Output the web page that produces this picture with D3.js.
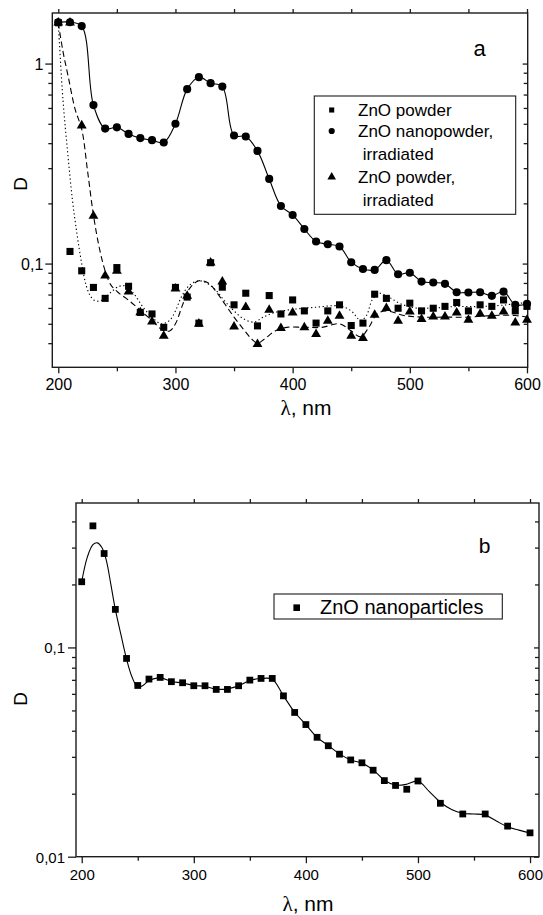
<!DOCTYPE html>
<html><head><meta charset="utf-8">
<script src="https://cdn.jsdelivr.net/npm/d3@7"></script>
<style>
body{margin:0;background:#fff}
svg{display:block}
text{font-family:"Liberation Sans",Arial,sans-serif;fill:#000}
</style></head><body>
<svg id="c" width="543" height="915"></svg>
<script>
// ---------- DATA ----------
// Panel a
const lambdaA = d3.range(200, 601, 10);
const nanoIrr = [1.61,1.61,1.54,0.62,0.473,0.48,0.445,0.424,0.414,0.403,0.50,0.745,0.855,0.798,0.767,0.437,0.432,0.366,0.265,0.194,0.175,0.149,0.129,0.125,0.1217,0.1016,0.094,0.093,0.104,0.0885,0.09,0.0813,0.0804,0.0792,0.0719,0.0717,0.0719,0.069,0.0724,0.0622,0.063];
const powder = [1.6,0.115,0.092,0.076,0.067,0.0955,0.077,0.057,0.056,0.048,0.076,0.068,0.0504,0.101,0.0762,0.0622,0.0711,0.0488,0.0692,0.056,0.0658,0.058,0.0504,0.058,0.0622,0.049,0.0504,0.0703,0.067,0.0598,0.0634,0.058,0.0598,0.0611,0.0639,0.058,0.0622,0.0611,0.0658,0.058,0.0611];
const powderIrr = [1.6,1.6,0.49,0.173,0.087,0.092,0.0724,0.057,0.0513,0.0435,0.075,0.069,0.05,0.101,0.0813,0.0484,0.0605,0.0395,0.0587,0.0475,0.0569,0.0479,0.0444,0.0517,0.0548,0.0435,0.0424,0.0554,0.0598,0.0517,0.0575,0.0527,0.0543,0.0543,0.0569,0.0523,0.056,0.0548,0.0575,0.0507,0.0523];
// fitted curves
const fitPowderX = [200,204,208,212,216,220,224,228,232,238,245,252,258,265,272,280,288,295,300,305,312,320,328,335,342,350,358,367,375,385,400,420,440,450,458,463,468,474,482,492,505,520,540,560,580,600];
const fitPowderY = [1.6,0.66,0.36,0.21,0.14,0.1,0.077,0.068,0.065,0.066,0.072,0.077,0.077,0.07,0.061,0.054,0.05,0.052,0.058,0.068,0.078,0.082,0.079,0.073,0.065,0.058,0.053,0.051,0.054,0.057,0.059,0.0605,0.0614,0.058,0.052,0.055,0.066,0.071,0.068,0.063,0.06,0.06,0.061,0.061,0.062,0.064];
const fitIrrX = [200,204,208.5,214.4,220,225,230,235,240,245,252,258,265,272,280,288,295,300,306,312,320,328,335,342,350,358,365,370,376,385,395,410,425,440,450,458,465,472,480,495,510,530,550,570,590,600];
const fitIrrY = [1.6,1.15,0.86,0.59,0.47,0.29,0.175,0.12,0.092,0.078,0.071,0.067,0.062,0.057,0.052,0.047,0.046,0.05,0.062,0.075,0.082,0.08,0.072,0.063,0.054,0.047,0.042,0.04,0.042,0.046,0.048,0.048,0.048,0.05,0.046,0.043,0.048,0.056,0.058,0.055,0.054,0.054,0.054,0.055,0.055,0.054];
// Panel b
const lambdaB = [200,210,220,230,240,250,260,270,280,290,300,310,320,330,340,350,360,370,380,390,400,410,420,430,440,450,460,470,480,490,500,520,540,560,580,600];
const nanoPart = [0.206,0.381,0.281,0.152,0.0886,0.0658,0.0706,0.0719,0.0686,0.0678,0.0656,0.0656,0.063,0.063,0.0656,0.0698,0.0711,0.0711,0.0587,0.0489,0.0428,0.0372,0.0339,0.0309,0.029,0.0281,0.0259,0.0231,0.0219,0.021,0.023,0.018,0.016,0.016,0.014,0.013];
const fitBX = [200,205,210,214,218,222,226,230,235,240,245,250,255,260,270,280,290,300,310,320,330,340,350,360,370,380,390,400,410,420,430,440,450,460,470,480,490,500,510,520,530,540,550,560,570,580,590,600];
const fitBY = [0.206,0.27,0.31,0.316,0.3,0.26,0.2,0.152,0.115,0.088,0.072,0.0645,0.066,0.0695,0.0715,0.0688,0.0676,0.0658,0.0652,0.0632,0.0634,0.0655,0.0695,0.071,0.0705,0.0587,0.049,0.0428,0.0372,0.034,0.031,0.029,0.028,0.026,0.0232,0.022,0.0222,0.023,0.0205,0.0182,0.0168,0.0161,0.016,0.0158,0.0148,0.0139,0.0134,0.013];
// ticks
const xMajor = [200,300,400,500,600];
const xMinor = [250,350,450,550];
const yMajorA = [0.1,1], yLabelsA = ["0,1","1"];
const yMinorA = [0.04,0.05,0.06,0.07,0.08,0.09,0.2,0.3,0.4,0.5,0.6,0.7,0.8,0.9];
const yMajorB = [0.01,0.1], yLabelsB = ["0,01","0,1"];
const yMinorB = [0.02,0.03,0.04,0.05,0.06,0.07,0.08,0.09,0.2,0.3,0.4];
const legendA = ["ZnO powder","ZnO nanopowder,"," irradiated","ZnO powder,"," irradiated"];
const legendB = ["ZnO nanoparticles"];

// ---------- DRAW ----------
const svg = d3.select("#c");
const AX = "#1c1c1c";
const FF = '"Liberation Sans",Arial,sans-serif';

function panel(o){
  const g = svg.append("g");
  const x = o.x, y = o.y;
  const [x0,x1] = x.range(), [y0,y1] = y.range(); // y0 bottom, y1 top
  const mk = (axis, pos, tv, size, fmt) => {
    const a = g.append("g").attr("transform", pos).call(axis.tickValues(tv).tickSize(size).tickSizeOuter(0).tickFormat(fmt||(()=>"")));
    a.select(".domain").remove();
    a.selectAll("line").attr("stroke", AX).attr("stroke-width", 1.3);
    return a;
  };
  const bx = mk(d3.axisBottom(x), `translate(0,${y0})`, xMajor, o.tMaj, (d)=>d);
  bx.selectAll("text").attr("font-size", o.fx).attr("fill","#000").attr("dy",null).attr("y", o.xLabY).attr("font-family",FF);
  mk(d3.axisBottom(x), `translate(0,${y0})`, xMinor, o.tMin);
  mk(d3.axisBottom(x), `translate(0,${y1})`, xMajor.concat(xMinor), -4);
  const ly = mk(d3.axisLeft(y), `translate(${x0},0)`, o.yMaj, o.tMajY, (d,i)=>o.yLab[i]);
  ly.selectAll("text").attr("font-size", o.fy).attr("fill","#000").attr("x", -o.tMajY-o.yGap).attr("dy","0.36em").attr("font-family",FF);
  mk(d3.axisLeft(y), `translate(${x0},0)`, o.yMin, o.tMin);
  mk(d3.axisRight(y), `translate(${x1},0)`, o.yMaj, -5);
  mk(d3.axisRight(y), `translate(${x1},0)`, o.yMin, -4);
  g.append("rect").attr("x", x0).attr("y", y1).attr("width", x1-x0).attr("height", y0-y1)
    .attr("fill","none").attr("stroke", AX).attr("stroke-width", 1.4);
  g.append("text").attr("x", o.xt[0]).attr("y", o.xt[1]).attr("text-anchor","middle").attr("font-size", o.ft)
    .call(t=>{t.append("tspan").attr("font-family",'"Liberation Serif",serif').text("λ"); t.append("tspan").text(", nm");});
  g.append("text").attr("transform",`translate(${o.yt[0]},${o.yt[1]}) rotate(-90)`).attr("text-anchor","middle")
    .attr("dy","0.35em").attr("font-size", o.fD).text("D");
  return g;
}

// Panel a
const xa = d3.scaleLinear().domain([194.9, 600.6]).range([52.3, 527.7]);
const ya = d3.scaleLog().domain([0.0303, 1.79]).range([367.3, 13]);
const ga = panel({x:xa, y:ya, tMaj:6, tMin:4, tMajY:7, yGap:2, fx:16, fy:16, fD:19, ft:21, xLabY:22.5,
  yMaj:yMajorA, yLab:yLabelsA, yMin:yMinorA, xt:[306,415], yt:[20,184]});

const lineA = d3.line().x(d=>xa(d[0])).y(d=>ya(d[1]));
ga.append("path").attr("d", lineA.curve(d3.curveCatmullRom.alpha(0.5))(d3.zip(fitPowderX, fitPowderY)))
  .attr("fill","none").attr("stroke","#000").attr("stroke-width",1.1).attr("stroke-dasharray","1.3,2.6");
ga.append("path").attr("d", lineA.curve(d3.curveCatmullRom.alpha(0.5))(d3.zip(fitIrrX, fitIrrY)))
  .attr("fill","none").attr("stroke","#000").attr("stroke-width",1.1).attr("stroke-dasharray","6,3.5");
ga.append("path").attr("d", lineA.curve(d3.curveCatmullRom.alpha(0.5))(d3.zip(lambdaA, nanoIrr)))
  .attr("fill","none").attr("stroke","#000").attr("stroke-width",1.1);

const sq = d3.symbol().type(d3.symbolSquare);
const tri = d3.symbol().type(d3.symbolTriangle);
const cir = d3.symbol().type(d3.symbolCircle);
ga.selectAll(".sq").data(d3.zip(lambdaA, powder)).join("path")
  .attr("transform", d=>`translate(${xa(d[0])},${ya(d[1])})`).attr("d", sq.size(50)());
ga.selectAll(".tr").data(d3.zip(lambdaA, powderIrr)).join("path")
  .attr("transform", d=>`translate(${xa(d[0])},${ya(d[1])})`).attr("d", tri.size(42)());
ga.selectAll(".ci").data(d3.zip(lambdaA, nanoIrr)).join("path")
  .attr("transform", d=>`translate(${xa(d[0])},${ya(d[1])})`).attr("d", cir.size(52)());

// legend a
ga.append("rect").attr("x",314.3).attr("y",96).attr("width",201.4).attr("height",118.3)
  .attr("fill","#fff").attr("stroke",AX).attr("stroke-width",1.1);
const legY = [110,131,154,177,200];
const legSym = [sq.size(26)(), cir.size(30)(), null, tri.size(32)(), null];
legendA.forEach((t,i)=>{
  if (legSym[i]) ga.append("path").attr("transform",`translate(331.7,${legY[i]})`).attr("d",legSym[i]);
  ga.append("text").attr("x",358).attr("y",legY[i]).attr("dy","0.35em").attr("font-size",17).style("white-space","pre").text(t);
});
ga.append("text").attr("x",479.7).attr("y",55.7).attr("text-anchor","middle").attr("font-size",22).text("a");

// Panel b
const xb = d3.scaleLinear().domain([194.9, 608]).range([76, 539]);
const yb = d3.scaleLog().domain([0.01, 0.49]).range([856.7, 503]);
const gb = panel({x:xb, y:yb, tMaj:6.5, tMin:4, tMajY:8, yGap:3, fx:15, fy:15, fD:19, ft:21, xLabY:23.5,
  yMaj:yMajorB, yLab:yLabelsB, yMin:yMinorB, xt:[308,911], yt:[20,699]});
const lineB = d3.line().x(d=>xb(d[0])).y(d=>yb(d[1])).curve(d3.curveCatmullRom.alpha(0.5));
gb.append("path").attr("d", lineB(d3.zip(fitBX, fitBY))).attr("fill","none").attr("stroke","#000").attr("stroke-width",1.1);
gb.selectAll(".sq").data(d3.zip(lambdaB, nanoPart)).join("path")
  .attr("transform", d=>`translate(${xb(d[0])},${yb(d[1])})`).attr("d", sq.size(46)());
gb.append("rect").attr("x",274).attr("y",594).attr("width",228.3).attr("height",25)
  .attr("fill","#fff").attr("stroke",AX).attr("stroke-width",1.1);
gb.append("path").attr("transform","translate(296.7,607.7)").attr("d", sq.size(44)());
gb.append("text").attr("x",320).attr("y",614.3).attr("font-size",20).text(legendB[0]);
gb.append("text").attr("x",484.7).attr("y",553.3).attr("text-anchor","middle").attr("font-size",21).text("b");
</script>
</body></html>
